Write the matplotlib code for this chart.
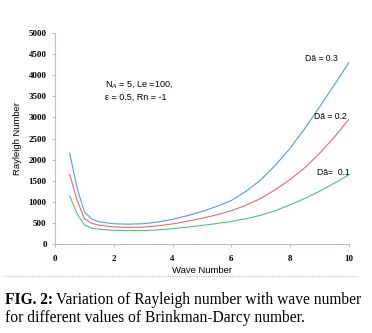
import matplotlib
matplotlib.use("Agg")
import matplotlib.pyplot as plt
from matplotlib.lines import Line2D

# === Dados ===
wave = [0.5, 0.75, 1.0, 1.25, 1.5, 2.0, 2.5, 3.0, 3.5, 4.0, 4.5, 5.0,
        5.5, 6.0, 6.5, 7.0, 7.5, 8.0, 8.5, 9.0, 9.5, 10.0]
ra_03 = [2150, 1330, 760, 590, 525, 480, 470, 480, 520, 585, 670, 770,
         890, 1030, 1250, 1520, 1870, 2270, 2740, 3250, 3770, 4300]
ra_02 = [1650, 1040, 600, 490, 445, 405, 395, 400, 430, 475, 540, 610,
         690, 790, 920, 1080, 1290, 1530, 1810, 2150, 2530, 2960]
ra_01 = [1140, 720, 450, 375, 348, 325, 318, 318, 335, 362, 400, 440,
         485, 535, 600, 680, 790, 930, 1080, 1250, 1440, 1640]

y_ticks = list(range(0, 5001, 500))
x_ticks = [0, 2, 4, 6, 8, 10]

W, H = 372, 333
fig = plt.figure(figsize=(W / 100, H / 100), dpi=100)
ax = fig.add_axes([55 / W, 1 - 244 / H, (349 - 55) / W, (244 - 33) / H])

ax.plot(wave, ra_03, color="#5b9bd5", lw=0.8)
ax.plot(wave, ra_02, color="#e86a6a", lw=0.8)
ax.plot(wave, ra_01, color="#4cc47c", lw=0.8)

ax.set_xlim(0, 10)
ax.set_ylim(0, 5000)
ax.set_xticks(x_ticks)
ax.set_yticks(y_ticks)
for s in ["top", "right"]:
    ax.spines[s].set_visible(False)
for s in ["left", "bottom"]:
    ax.spines[s].set_color("#c8b8c8")
    ax.spines[s].set_linewidth(0.8)
ax.tick_params(length=2, width=0.6, color="#b0b0b0",
               labelsize=6.5, labelfontfamily="Liberation Serif")
ax.tick_params(axis="x", pad=6)
ax.tick_params(axis="y", pad=4)
for lab in ax.get_xticklabels() + ax.get_yticklabels():
    lab.set_fontweight("bold")

ax.set_xlabel("Wave Number", fontsize=6.8, family="Liberation Sans", labelpad=2)
ax.set_ylabel("Rayleigh Number", fontsize=6.8, family="Liberation Sans", labelpad=5)

ax.text(1.7, 3900, "N$_A$ = 5, Le =100,\nε = 0.5, Rn = -1", fontsize=6.5,
        family="Liberation Sans", va="top", linespacing=1.3)
fs = 6.2
ax.text(9.63, 4384, "Dā = 0.3", fontsize=fs, family="Liberation Sans", ha="right", va="center")
ax.text(9.93, 3033, "Dā = 0.2", fontsize=fs, family="Liberation Sans", ha="right", va="center")
ax.text(10.03, 1706, "Dā=  0.1", fontsize=fs, family="Liberation Sans", ha="right", va="center")

# linha pontilhada separadora
fig.add_artist(Line2D([5 / W, 358 / W], [1 - 276 / H, 1 - 276 / H],
                      color="#c0c0c0", lw=0.8, ls=(0, (1, 1))))

# legenda da figura
cfs = 11.2
t1 = fig.text(5 / W, 1 - 300 / H, "FIG. 2:", fontsize=cfs, family="Liberation Serif",
              weight="bold", va="center")
fig.canvas.draw()
bb = t1.get_window_extent()
fig.text(bb.x1 / W + 3 / W, 1 - 300 / H, "Variation of Rayleigh number with wave number",
         fontsize=cfs, family="Liberation Serif", va="center")
fig.text(5 / W, 1 - 318 / H, "for different values of Brinkman-Darcy number.",
         fontsize=cfs, family="Liberation Serif", va="center")

fig.savefig("out.png", dpi=100)
